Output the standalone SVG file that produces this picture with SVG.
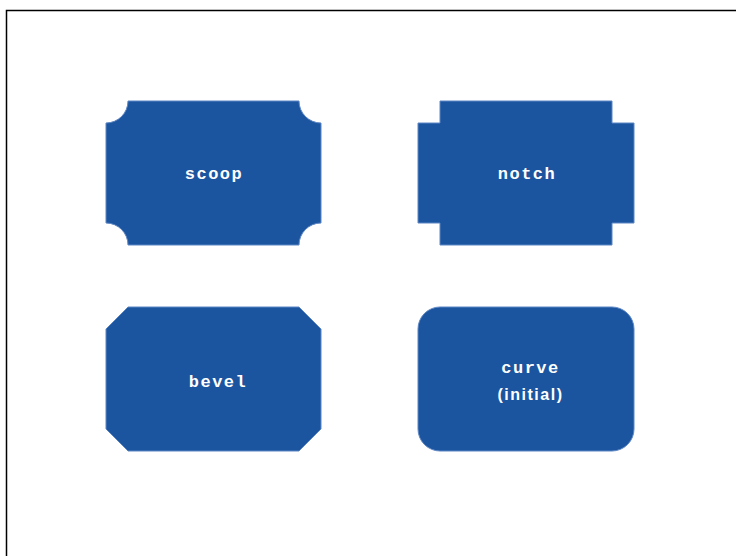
<svg xmlns="http://www.w3.org/2000/svg" width="736" height="556" viewBox="0 0 736 556">
<style>
.shape{fill:#1b55a0;stroke:#5d86c4;stroke-width:1}
.mono{font-family:"Liberation Mono","Courier New",monospace;font-weight:bold;font-size:17px;letter-spacing:1.5px;fill:#ffffff;text-anchor:middle}
.sans{font-family:"Liberation Sans",Arial,sans-serif;font-weight:bold;font-size:16px;letter-spacing:1.5px;fill:#ffffff;text-anchor:middle}
</style>
<rect x="0" y="0" width="736" height="556" fill="#ffffff"/>
<rect x="6.5" y="10.5" width="740" height="560" fill="none" stroke="#000000" stroke-width="1.5"/>
<g id="connectors"></g>
<g id="scoop">
<path class="shape" d="M128,101 H299 A22,22 0 0 0 321,123 V223 A22,22 0 0 0 299,245 H128 A22,22 0 0 0 106,223 V123 A22,22 0 0 0 128,101 Z"/>
<text class="mono" x="214" y="178.5">scoop</text>
</g>
<g id="notch">
<path class="shape" d="M440,101 H612 V123 H634 V223 H612 V245 H440 V223 H418 V123 H440 Z"/>
<text class="mono" x="527" y="178.5">notch</text>
</g>
<g id="bevel">
<path class="shape" d="M128,307 H299 L321,329 V429 L299,451 H128 L106,429 V329 Z"/>
<text class="mono" x="218" y="387">bevel</text>
</g>
<g id="curve">
<rect class="shape" x="418" y="307" width="216" height="144" rx="22" ry="22"/>
<text class="mono" x="530.5" y="373">curve</text>
<text class="sans" x="530.5" y="399.5">(initial)</text>
</g>
</svg>
